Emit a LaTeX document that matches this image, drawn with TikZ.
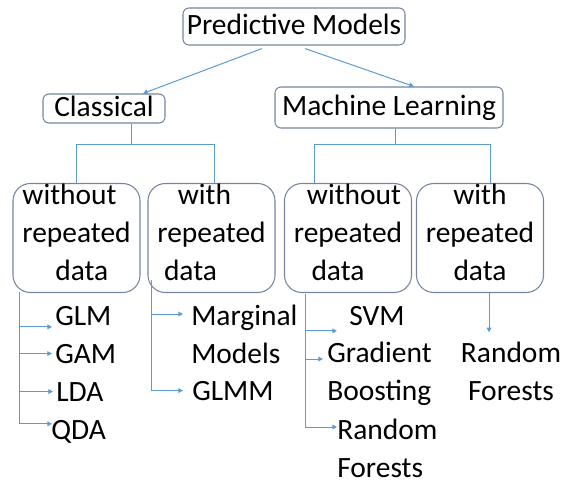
\documentclass[tikz,border=0pt]{standalone}
\usepackage{fontspec}
\setmainfont{Carlito}
\usetikzlibrary{arrows.meta}

\definecolor{boxline}{RGB}{118,132,158}
\definecolor{linkblue}{RGB}{91,155,213}

\tikzset{
  box/.style={draw=boxline, line width=0.8pt, rounded corners=4.5pt, inner sep=0pt, text height=15pt, text depth=3pt},
  group/.style={draw=boxline, line width=0.8pt, rounded corners=13pt, inner sep=0pt, align=center,
    minimum width=95.25pt, text height=72.75pt, text depth=9pt},
  leaf/.style={inner sep=0pt, anchor=base west},
  link/.style={draw=linkblue, line width=0.75pt},
  arr/.style={link, -{Triangle[length=3.5pt,width=3.5pt]}},
  leafarr/.style={arr, shorten >=2.25pt},
}

\begin{document}
\begin{tikzpicture}[x=0.75pt, y=-0.75pt, font=\fontsize{22.1}{28.5}\selectfont]
  \useasboundingbox (0,0) rectangle (562,483);

  \node[box, minimum width=166.5pt, minimum height=27.75pt] (pm) at (294,26.5) {Predictive Models};
  \node[box, minimum width=91.5pt, minimum height=21.75pt] (cl) at (104,108.5) {Classical\hspace{7.5pt}};
  \node[box, minimum width=171pt, minimum height=30.75pt] (ml) at (389,107.5) {Machine Learning};
  \draw[arr] ([shift={(-24pt,-2.25pt)}]pm.south) -- ([xshift=29.25pt]cl.north);
  \draw[arr] ([shift={(8.25pt,-2.25pt)}]pm.south) -- ([xshift=18.75pt]ml.north);

  % data kinds
  \node[group] (b1) at (76.5,238) {without\hspace*{10.5pt}\\repeated\\\hspace*{8pt}data};
  \node[group] (b2) at (211.5,238) {with\hspace*{10.5pt}\\repeated\\data\hspace*{31.5pt}};
  \node[group] (b3) at (348,238) {\hspace*{9pt}without\\repeated\\data\hspace*{15pt}};
  \node[group] (b4) at (480,238) {with\\repeated\\data};

  \coordinate (cj) at (131,144);
  \draw[link] (cj |- cl.south) -- (cj);
  \draw[link] (cj) -| (b1.north);
  \draw[link] (cj) -| ([xshift=2.6pt]b2.north);
  \coordinate (mj) at (395,144);
  \draw[link] (mj |- ml.south) -- (mj);
  \draw[link] (mj) -| ([xshift=-25.5pt]b3.north);
  \draw[link] (mj) -| ([xshift=7.5pt]b4.north);

  % models
  \node[leaf] (glm) at (55,325) {GLM};
  \node[leaf] (gam) at (55,363) {GAM};
  \node[leaf] (lda) at (56,401) {LDA};
  \node[leaf] (qda) at (51,439) {QDA};
  \node[leaf, align=left] (marg) at (191,363) {Marginal\\Models};
  \node[leaf] (glmm) at (192,400) {GLMM};
  \node[leaf] (svm) at (349,325) {SVM};
  \node[leaf, align=left] (gb) at (327,400) {Gradient\\Boosting};
  \node[leaf, align=left] (rf1) at (337,477) {Random\\Forests};
  \node[leaf, anchor=base, align=center] (rf2) at (511,400) {Random\\Forests};

  \coordinate (t1) at (19,292);
  \coordinate (t2) at (151,280);
  \coordinate (t3) at (305,294);
  \draw[leafarr] (t1) |- ([yshift=-8.5pt]glm.west);
  \draw[leafarr] (t1) |- (gam.west);
  \draw[leafarr] (t1) |- (lda.west);
  \draw[leafarr] (t1) |- ([shift={(3pt,5.7pt)}]qda.west);
  \draw[leafarr] (t2) |- ([shift={(-3.75pt,36.75pt)}]marg.base west);
  \draw[leafarr] (t2) |- ([xshift=-4.5pt]glmm.west);
  \draw[leafarr] (t3) |- ([shift={(-6.75pt,-11.5pt)}]svm.west);
  \draw[leafarr] (t3) |- ([shift={(-0.75pt,30.75pt)}]gb.base west);
  \draw[leafarr] (t3) |- ([shift={(2.25pt,37.5pt)}]rf1.base west);
  \draw[arr] ([xshift=6.75pt]b4.south) -- ([shift={(-16.5pt,6.75pt)}]rf2.north);
\end{tikzpicture}
\end{document}
